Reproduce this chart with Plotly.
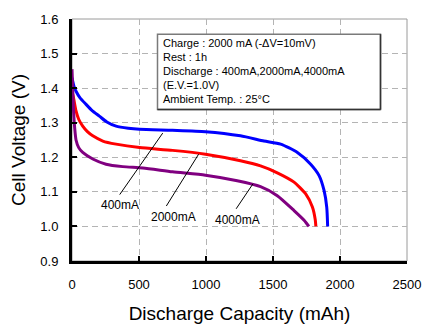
import plotly.graph_objects as go

# ---- data ----
cap_400 = [0, 15, 30, 60, 105, 150, 204, 260, 329, 420, 504, 750, 996, 1257, 1432, 1557, 1682, 1781, 1844, 1881, 1901, 1908]
v_400 = [1.43, 1.405, 1.391, 1.372, 1.353, 1.335, 1.319, 1.302, 1.290, 1.284, 1.281, 1.278, 1.274, 1.262, 1.247, 1.238, 1.214, 1.180, 1.147, 1.104, 1.056, 1.0]

cap_2000 = [0, 10, 30, 50, 80, 115, 155, 230, 329, 504, 750, 996, 1257, 1407, 1532, 1657, 1744, 1794, 1815, 1820]
v_2000 = [1.39, 1.375, 1.334, 1.310, 1.290, 1.274, 1.262, 1.247, 1.238, 1.228, 1.220, 1.209, 1.190, 1.175, 1.155, 1.128, 1.094, 1.056, 1.020, 1.0]

cap_4000 = [0, 5, 12, 20, 30, 50, 80, 155, 254, 379, 529, 750, 996, 1233, 1407, 1532, 1657, 1732, 1768]
v_4000 = [1.455, 1.40, 1.33, 1.285, 1.25, 1.228, 1.214, 1.195, 1.180, 1.173, 1.169, 1.158, 1.148, 1.132, 1.115, 1.089, 1.046, 1.018, 1.0]

series_names = ["400mA", "2000mA", "4000mA"]
series_colors = ["#0000FF", "#FF0000", "#800080"]

# label leader lines: (x_top, y_top) -> (x_bottom, y_bottom), label at (x_text, y_text)
label_line_x0 = [677, 945, 1350]
label_line_y0 = [1.270, 1.209, 1.123]
label_line_x1 = [356, 704, 1225]
label_line_y1 = [1.092, 1.059, 1.051]
label_text_x = [359, 758, 1233]
label_text_y = [1.063, 1.027, 1.020]

x_ticks = [0, 500, 1000, 1500, 2000, 2500]
y_ticks = [0.9, 1.0, 1.1, 1.2, 1.3, 1.4, 1.5, 1.6]

info_lines = [
    "Charge : 2000 mA (-\u0394V=10mV)",
    "Rest : 1h",
    "Discharge : 400mA,2000mA,4000mA",
    "(E.V.=1.0V)",
    "Ambient Temp. : 25\u00b0C",
]

FONT = "Liberation Sans, Arial, sans-serif"

fig = go.Figure()
for xs, ys, name, col in zip([cap_400, cap_2000, cap_4000], [v_400, v_2000, v_4000], series_names, series_colors):
    fig.add_trace(go.Scatter(x=xs, y=ys, mode="lines", name=name,
                             line=dict(color=col, width=3, shape="spline", smoothing=0.6)))

W, H = 433, 334
ml, mr, mt, mb = 72, 26, 17, 73
pw, ph = W - ml - mr, H - mt - mb

def px2paper_x(px):
    return (px - ml) / pw

def px2paper_y(py):
    return 1 - (py - mt) / ph

shapes = []
# plot border (top/right gray)
shapes.append(dict(type="rect", xref="paper", yref="paper", x0=0, x1=1, y0=0, y1=1,
                   line=dict(color="#9a9a9a", width=1), layer="below"))
# leader lines
for x0, y0, x1, y1 in zip(label_line_x0, label_line_y0, label_line_x1, label_line_y1):
    shapes.append(dict(type="line", xref="x", yref="y", x0=x0, y0=y0, x1=x1, y1=y1,
                       line=dict(color="black", width=1)))
# info box
bx0, bx1 = px2paper_x(157.5), px2paper_x(380.5)
by0, by1 = px2paper_y(108.3), px2paper_y(32.3)
shapes.append(dict(type="rect", xref="paper", yref="paper", x0=bx0, x1=bx1, y0=by0, y1=by1,
                   fillcolor="white", line=dict(color="#7a7a7a", width=1.5)))
shapes.append(dict(type="line", xref="paper", yref="paper", x0=bx0, x1=bx1, y0=by0, y1=by0,
                   line=dict(color="#333333", width=1.5)))
shapes.append(dict(type="line", xref="paper", yref="paper", x0=bx1, x1=bx1, y0=by0, y1=by1,
                   line=dict(color="#333333", width=1.5)))

annotations = []
line_centers = [40.7, 55.0, 69.2, 83.5, 97.7]
for txt, cy in zip(info_lines, line_centers):
    annotations.append(dict(text=txt, xref="paper", yref="paper", x=px2paper_x(160.5), y=px2paper_y(cy),
                            xanchor="left", yanchor="middle", showarrow=False,
                            font=dict(family=FONT, size=11, color="black")))
for name, tx, ty in zip(series_names, label_text_x, label_text_y):
    annotations.append(dict(text=name, xref="x", yref="y", x=tx, y=ty, xanchor="center", yanchor="middle",
                            showarrow=False, font=dict(family=FONT, size=12, color="black")))

axis_common = dict(
    showline=True, linecolor="black", linewidth=3,
    ticks="inside", ticklen=5, tickwidth=2, tickcolor="black",
    showgrid=True, gridcolor="#b4b4b4", gridwidth=1, griddash="6px,4px",
    zeroline=False, tickfont=dict(family=FONT, size=13, color="black"),
)

fig.update_layout(
    width=W, height=H, margin=dict(l=ml, r=mr, t=mt, b=mb),
    paper_bgcolor="white", plot_bgcolor="white", showlegend=False,
    shapes=shapes, annotations=annotations,
    font=dict(family=FONT, color="black"),
    xaxis=dict(range=[0, 2500], tickvals=x_ticks, ticktext=[str(v) for v in x_ticks],
               title=dict(text="Discharge Capacity (mAh)", font=dict(family=FONT, size=19), standoff=17),
               ticklabelstandoff=9, **axis_common),
    yaxis=dict(range=[0.9, 1.6], tickvals=y_ticks, ticktext=[f"{v:.1f}" for v in y_ticks],
               title=dict(text="Cell Voltage (V)", font=dict(family=FONT, size=19), standoff=10),
               ticklabelstandoff=8, **axis_common),
)

fig.write_html("out.html")
